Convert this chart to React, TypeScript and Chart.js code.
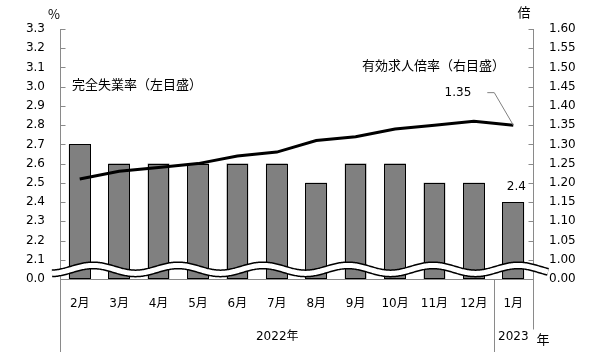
import React, { useEffect, useRef } from "react";
import { Chart, registerables } from "chart.js";

Chart.register(...registerables);

const months = ["2月", "3月", "4月", "5月", "6月", "7月", "8月", "9月", "10月", "11月", "12月", "1月"];
const unemploymentRate = [2.7, 2.6, 2.6, 2.6, 2.6, 2.6, 2.5, 2.6, 2.6, 2.5, 2.5, 2.4];
const jobOpeningsRatio = [1.21, 1.23, 1.24, 1.25, 1.27, 1.28, 1.31, 1.32, 1.34, 1.35, 1.36, 1.35];
const leftTicks = [2.0, 2.1, 2.2, 2.3, 2.4, 2.5, 2.6, 2.7, 2.8, 2.9, 3.0, 3.1, 3.2, 3.3];
const rightTicks = [0.95, 1.0, 1.05, 1.1, 1.15, 1.2, 1.25, 1.3, 1.35, 1.4, 1.45, 1.5, 1.55, 1.6];
const leftBreakLabel = "0.0";
const rightBreakLabel = "0.00";
const yearLabels = ["2022年", "2023"];
const yearSuffix = "年";
const unemploymentTitle = "完全失業率（左目盛）";
const ratioTitle = "有効求人倍率（右目盛）";
const leftUnit = "%";
const rightUnit = "倍";

const NUM_FONT = "12px 'DejaVu Sans', 'Noto Sans CJK JP', sans-serif";
const JP_FONT = "13px 'Noto Sans CJK JP', 'DejaVu Sans', sans-serif";
const AXIS_GRAY = "#8a8a8a";

const decorPlugin = {
  id: "decor",
  afterDatasetDraw(chart: any, args: any) {
    if (args.index !== 0) return;
    const ctx = chart.ctx as CanvasRenderingContext2D;
    const meta = chart.getDatasetMeta(0);
    ctx.save();
    ctx.strokeStyle = "#000";
    ctx.lineWidth = 1;
    meta.data.forEach((el: any) => {
      const p = el.getProps(["x", "y", "base", "width"], true);
      const l = Math.round(p.x - p.width / 2) + 0.5;
      const r = Math.round(p.x + p.width / 2) - 0.5;
      const t = Math.round(p.y) + 0.5;
      const b = Math.round(Math.min(p.base, chart.chartArea.bottom)) - 0.5;
      ctx.fillStyle = "#808080";
      ctx.fillRect(l, t, r - l, b - t);
      ctx.strokeRect(l, t, r - l, b - t);
    });
    ctx.restore();
  },
  afterDatasetsDraw(chart: any) {
    const ctx = chart.ctx as CanvasRenderingContext2D;
    const area = chart.chartArea;
    const y = chart.scales.y;
    const y1 = chart.scales.y1;
    const x = chart.scales.x;
    ctx.save();

    ctx.strokeStyle = AXIS_GRAY;
    ctx.lineWidth = 1;
    const L = Math.round(area.left) + 0.5;
    const R = Math.round(area.right) + 0.5;
    const B = Math.round(area.bottom) + 0.5;
    const T = Math.round(area.top);
    ctx.beginPath();
    ctx.moveTo(L, T);
    ctx.lineTo(L, chart.height);
    ctx.moveTo(R, T);
    ctx.lineTo(R, B + 50);
    ctx.moveTo(L, B);
    ctx.lineTo(R, B);
    const sep = Math.round((x.getPixelForValue(10) + x.getPixelForValue(11)) / 2) + 0.5;
    ctx.moveTo(sep, B);
    ctx.lineTo(sep, chart.height);
    leftTicks.forEach((v, i) => {
      if (i === 0) return;
      const py = Math.round(y.getPixelForValue(v)) + 0.5;
      ctx.moveTo(L, py);
      ctx.lineTo(L + 5, py);
    });
    rightTicks.forEach((v, i) => {
      if (i === 0) return;
      const py = Math.round(y1.getPixelForValue(v)) + 0.5;
      ctx.moveTo(R, py);
      ctx.lineTo(R - 5, py);
    });
    ctx.stroke();

    // axis break wave
    const cy = y.getPixelForValue(2.05);
    const drawWave = () => {
      ctx.beginPath();
      for (let px = area.left - 8; px <= area.right + 15; px += 1) {
        const py = cy - 4 * Math.cos((2 * Math.PI * (px - (area.left + 33))) / 85);
        if (px === area.left - 8) ctx.moveTo(px, py);
        else ctx.lineTo(px, py);
      }
      ctx.stroke();
    };
    ctx.lineCap = "butt";
    ctx.strokeStyle = "#000";
    ctx.lineWidth = 8;
    drawWave();
    ctx.strokeStyle = "#fff";
    ctx.lineWidth = 5;
    drawWave();

    ctx.fillStyle = "#000";
    ctx.textBaseline = "middle";
    ctx.font = JP_FONT;
    ctx.textAlign = "center";
    ctx.fillText(leftUnit, 54, 14);
    ctx.fillText(rightUnit, 524, 12);
    ctx.textAlign = "left";
    ctx.fillText(unemploymentTitle, area.left + 12, 84);
    ctx.fillText(ratioTitle, 362, 65);

    ctx.font = NUM_FONT;
    ctx.textAlign = "center";
    ctx.fillText(yearLabels[0], (area.left + sep) / 2, 337);
    ctx.fillText(yearLabels[1], x.getPixelForValue(11), 337);
    ctx.font = JP_FONT;
    ctx.fillText(yearSuffix, 543, 339);

    const lineMeta = chart.getDatasetMeta(1);
    const lastPt = lineMeta.data[lineMeta.data.length - 1];
    const lastRatio = jobOpeningsRatio[jobOpeningsRatio.length - 1];
    ctx.font = NUM_FONT;
    ctx.textAlign = "right";
    ctx.fillText(lastRatio.toFixed(2), lastPt.x - 42, lastPt.y - 32);
    ctx.strokeStyle = "#808080";
    ctx.lineWidth = 1;
    ctx.beginPath();
    ctx.moveTo(lastPt.x - 26, lastPt.y - 32.5);
    ctx.lineTo(lastPt.x - 19, lastPt.y - 32.5);
    ctx.lineTo(lastPt.x, lastPt.y);
    ctx.stroke();

    const barMeta = chart.getDatasetMeta(0);
    const lastBar = barMeta.data[barMeta.data.length - 1];
    const lastRate = unemploymentRate[unemploymentRate.length - 1];
    ctx.textAlign = "center";
    ctx.fillText(lastRate.toFixed(1), lastBar.x + 3, lastBar.y - 15);

    ctx.restore();
  },
};

export default function App() {
  const canvasRef = useRef<HTMLCanvasElement | null>(null);

  useEffect(() => {
    if (!canvasRef.current) return;
    const chart = new Chart(canvasRef.current, {
      type: "bar",
      data: {
        labels: months,
        datasets: [
          {
            type: "bar",
            label: "完全失業率",
            data: unemploymentRate,
            yAxisID: "y",
            base: 2.0,
            backgroundColor: "#808080",
            borderColor: "#000",
            borderWidth: 0,
            inflateAmount: 0,
            barPercentage: 0.55,
            categoryPercentage: 1,
            order: 2,
          } as any,
          {
            type: "line",
            label: "有効求人倍率",
            data: jobOpeningsRatio,
            yAxisID: "y1",
            borderColor: "#000",
            borderWidth: 3,
            pointRadius: 0,
            tension: 0,
            order: 1,
          } as any,
        ],
      },
      options: {
        animation: false,
        responsive: false,
        devicePixelRatio: 1,
        layout: { padding: { top: 29, left: 0, right: 0, bottom: 0 } },
        plugins: {
          legend: { display: false },
          tooltip: { enabled: false },
        },
        scales: {
          x: {
            grid: { display: false, drawTicks: false },
            border: { display: false },
            ticks: {
              color: "#000",
              padding: 18,
              font: { family: "'DejaVu Sans', 'Noto Sans CJK JP', sans-serif", size: 12 },
              maxRotation: 0,
            },
            afterFit(scale: any) {
              scale.height = 73;
            },
          },
          y: {
            position: "left",
            min: 2.0,
            max: 3.3,
            grid: { display: false, drawTicks: false },
            border: { display: false },
            afterBuildTicks(scale: any) {
              scale.ticks = leftTicks.map((v) => ({ value: v }));
            },
            ticks: {
              color: "#000",
              padding: 15,
              font: { family: "'DejaVu Sans', sans-serif", size: 12 },
              callback: (v: any, i: number) => (i === 0 ? leftBreakLabel : Number(v).toFixed(1)),
            },
            afterFit(scale: any) {
              scale.width = 60;
            },
          },
          y1: {
            position: "right",
            min: 0.95,
            max: 1.6,
            grid: { display: false, drawTicks: false },
            border: { display: false },
            afterBuildTicks(scale: any) {
              scale.ticks = rightTicks.map((v) => ({ value: v }));
            },
            ticks: {
              color: "#000",
              padding: 16,
              font: { family: "'DejaVu Sans', sans-serif", size: 12 },
              callback: (v: any, i: number) => (i === 0 ? rightBreakLabel : Number(v).toFixed(2)),
            },
            afterFit(scale: any) {
              scale.width = 76;
            },
          },
        },
      },
      plugins: [decorPlugin],
    });
    return () => chart.destroy();
  }, []);

  return (
    <div style={{ position: "absolute", left: 0, top: 0, width: 609, height: 352, background: "#fff" }}>
      <canvas ref={canvasRef} width={609} height={352} style={{ display: "block", width: 609, height: 352 }} />
    </div>
  );
}
